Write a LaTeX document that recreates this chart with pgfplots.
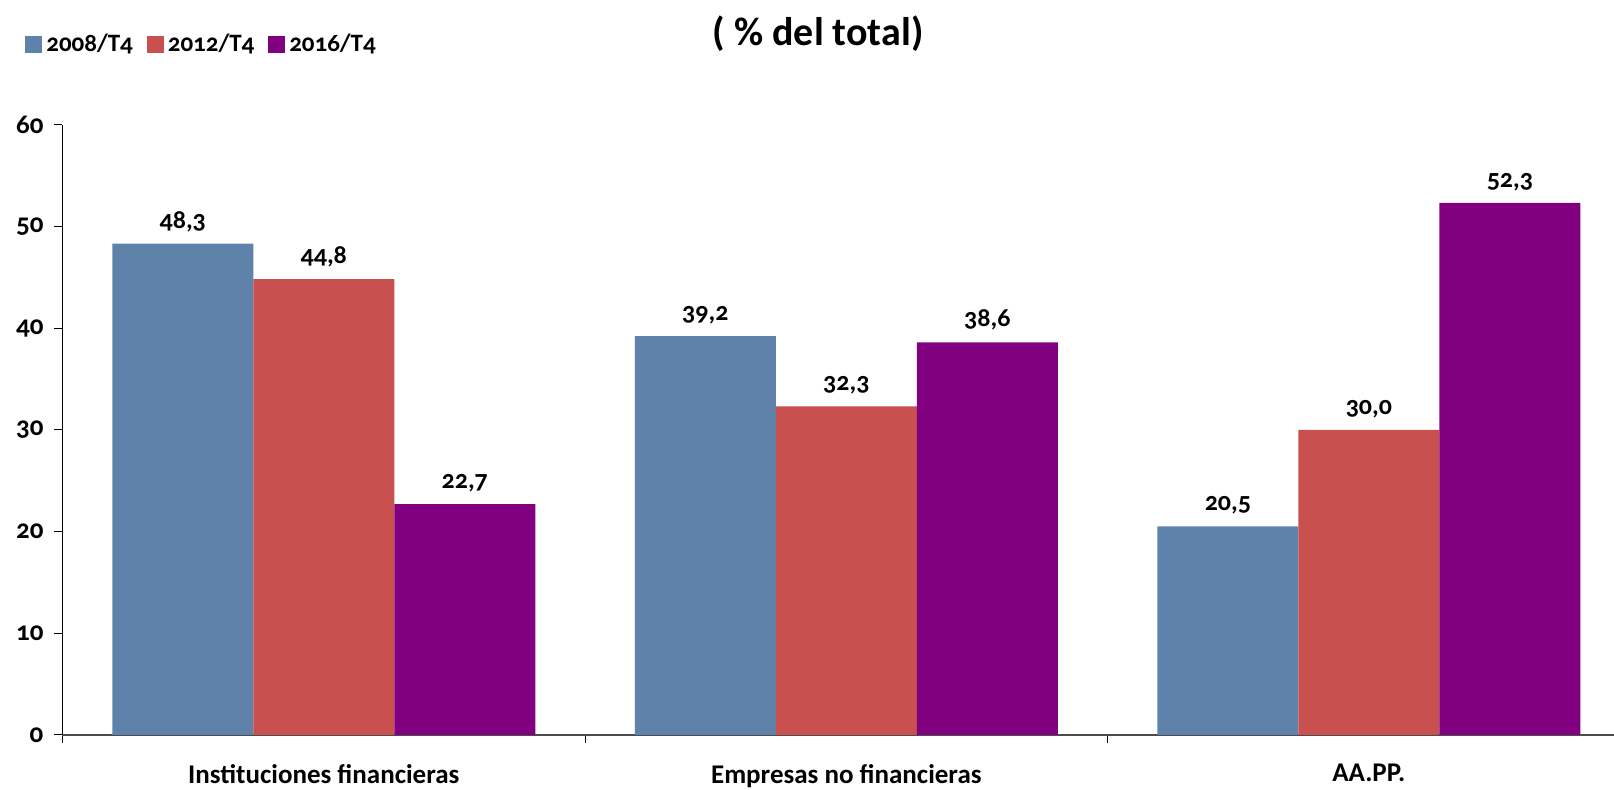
\documentclass[border=0pt]{standalone}
\usepackage{fontspec}
\setmainfont{Carlito}[Numbers=OldStyle]
\usepackage{pgfplots}
\pgfplotsset{compat=1.18}
\definecolor{cblue}{HTML}{5F82AA}
\definecolor{cred}{HTML}{C8504E}
\definecolor{cpurp}{HTML}{800080}
\begin{document}
\begin{tikzpicture}
\begin{axis}[
  at={(31.25pt,27.5pt)}, anchor=south west,
  scale only axis, width=775.75pt, height=305.2pt,
  xmin=-0.5, xmax=2.469, ymin=0, ymax=60,
  axis lines*=left,
  x axis line style={draw=black!70, line width=1pt},
  y axis line style={draw=black, line width=0.5pt},
  ybar=0pt, bar width=70.5pt,
  /pgf/number format/assume math mode=true,
  xtick={0,1,2},
  xticklabels={Instituciones financieras, Empresas no financieras, AA.PP.},
  major x tick style={draw=none},
  minor xtick={-0.5,0.5,1.5},
  minor x tick style={draw=black, line width=0.5pt},
  minor tick length=4pt,
  ytick={0,10,20,30,40,50,60},
  major tick length=4pt,
  tick align=outside,
  y tick style={draw=black, line width=0.5pt},
  tick label style={font=\bfseries\fontsize{13.5}{15}\selectfont},
  xticklabel style={yshift=-7pt},
  yticklabel style={xshift=-2pt},
  nodes near coords={\pgfmathprintnumber[fixed,fixed zerofill,precision=1,use comma]{\pgfplotspointmeta}},
  every node near coord/.append style={font=\bfseries\fontsize{13}{15}\selectfont, black, yshift=2.5pt},
  title={( \% del total)},
  title style={at={(0.487,1.129)}, anchor=center, font=\bfseries\fontsize{20}{24}\selectfont},
  legend columns=3,
  legend style={at={(-0.0242,1.131)}, anchor=west, draw=none, fill=none,
    inner sep=0pt, font=\bfseries\fontsize{12.5}{15}\selectfont,
    /tikz/every even column/.append style={column sep=5pt}},
  legend image code/.code={\fill[#1] (0pt,-4.25pt) rectangle (8.5pt,4.25pt);},
]
\addplot[fill=cblue, draw=none] coordinates {(0,48.3) (1,39.2) (2,20.5)};
\addplot[fill=cred, draw=none] coordinates {(0,44.8) (1,32.3) (2,30.0)};
\addplot[fill=cpurp, draw=none] coordinates {(0,22.7) (1,38.6) (2,52.3)};
\legend{2008/T4, 2012/T4, 2016/T4}
\end{axis}
\pgfresetboundingbox
\path (0,0) rectangle (807pt,395pt);
\end{tikzpicture}
\end{document}
